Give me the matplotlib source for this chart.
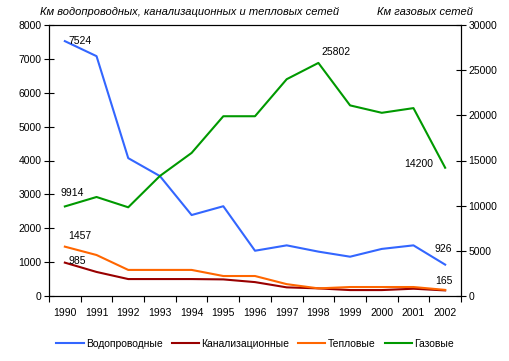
import numpy as np
import matplotlib.pyplot as plt

plt.rcParams['font.family'] = ['Liberation Sans', 'DejaVu Sans']

# данные
years = ['1990', '1991', '1992', '1993', '1994', '1995', '1996',
         '1997', '1998', '1999', '2000', '2001', '2002']
vodoprov = [7524, 7080, 4070, 3540, 2390, 2650, 1336, 1495, 1310, 1160, 1390, 1495, 926]
kanaliz = [985, 710, 500, 500, 500, 490, 410, 255, 225, 175, 175, 215, 165]
teplov = [1457, 1210, 770, 770, 770, 590, 590, 350, 225, 265, 265, 265, 180]
gazov = [9914, 10960, 9820, 13290, 15840, 19900, 19900, 24000, 25802, 21100, 20280, 20800, 14200]

c_vod = '#3366FF'
c_kan = '#990000'
c_tep = '#FF6600'
c_gaz = '#009900'

x = np.arange(len(years))

fig = plt.figure(figsize=(5.1, 3.61), dpi=100)
ax = fig.add_axes([49/510, 1-296/361, 412/510, 271/361])
ax2 = ax.twinx()

lw = 1.5
l1, = ax.plot(x, vodoprov, color=c_vod, lw=lw, label='Водопроводные')
l2, = ax.plot(x, kanaliz, color=c_kan, lw=lw, label='Канализационные')
l3, = ax.plot(x, teplov, color=c_tep, lw=lw, label='Тепловые')
l4, = ax2.plot(x, gazov, color=c_gaz, lw=lw, label='Газовые')

ax.set_xlim(-0.5, 12.5)
ax.set_ylim(0, 8000)
ax2.set_ylim(0, 30000)
ax.set_yticks(np.arange(0, 8001, 1000))
ax2.set_yticks(np.arange(0, 30001, 5000))

fs = 7.5
ax.set_xticks(x)
ax.set_xticklabels(years)
ax.set_xticks(np.arange(-0.5, 13, 1), minor=True)
ax.tick_params(axis='x', which='major', length=0, pad=9, labelsize=fs)
ax.tick_params(axis='x', which='minor', length=4, direction='out', width=0.8)
ax.tick_params(axis='y', length=7, direction='inout', width=0.8, labelsize=fs, pad=2)
ax2.tick_params(axis='y', length=7, direction='inout', width=0.8, labelsize=fs, pad=2)

for a in (ax, ax2):
    for s in a.spines.values():
        s.set_linewidth(0.8)

# подписи значений
ax.text(0.1, 7524, '7524', fontsize=fs, va='center', ha='left')
ax.text(-0.15, 3040, '9914', fontsize=fs, va='center', ha='left')
ax.text(0.1, 1770, '1457', fontsize=fs, va='center', ha='left')
ax.text(0.1, 1030, '985', fontsize=fs, va='center', ha='left')
ax2.text(8.1, 27000, '25802', fontsize=fs, va='center', ha='left')
ax2.text(11.62, 14600, '14200', fontsize=fs, va='center', ha='right')
ax.text(12.22, 1386, '926', fontsize=fs, va='center', ha='right')
ax.text(12.22, 440, '165', fontsize=fs, va='center', ha='right')

fig.text(40/510, 1-12/361, 'Км водопроводных, канализационных и тепловых сетей',
         fontsize=8, style='italic', va='center', ha='left')
fig.text(473/510, 1-12/361, 'Км газовых сетей',
         fontsize=8, style='italic', va='center', ha='right')

fig.legend(handles=[l1, l2, l3, l4], loc='center', bbox_to_anchor=(0.5, 1-344/361),
           ncol=4, frameon=False, fontsize=fs, handlelength=2.6, handletextpad=0.2,
           columnspacing=0.9)

fig.savefig('out.png', dpi=100)
